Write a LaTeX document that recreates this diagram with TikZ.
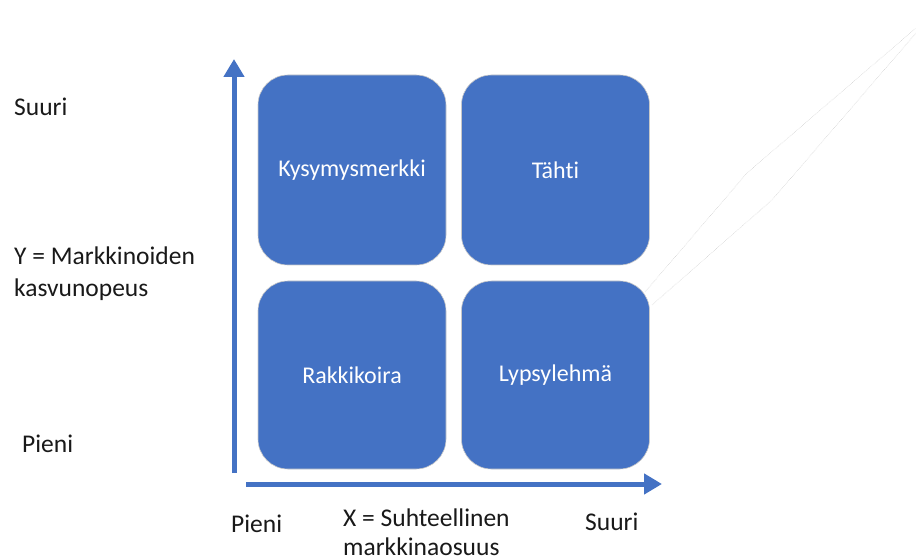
\documentclass[tikz,border=0pt]{standalone}
\usepackage{fontspec}
\setmainfont[Ligatures=NoCommon]{Carlito}
\usetikzlibrary{arrows.meta}
\definecolor{boxblue}{HTML}{4472C4}
\definecolor{guide}{HTML}{C8C8C8}
\tikzset{
  quad/.style={draw=guide, line width=0.6pt, fill=boxblue, rounded corners=30pt, minimum width=188pt, minimum height=190pt, inner sep=0pt, text=white, font=\fontsize{24}{29}\selectfont},
  axis/.style={draw=boxblue, line width=5pt, -{Triangle[width=20pt,length=18pt]}},
  lbl/.style={font=\fontsize{25.5}{32}\selectfont, text=black!90, inner sep=0pt, align=left},
  thinguide/.style={draw=guide, line width=0.5pt, densely dotted}
}
\begin{document}
\begin{tikzpicture}[x=1pt,y=-1pt]
\useasboundingbox (0,0) rectangle (916,556);
\node[quad] (q1) at (352,170) {Kysymysmerkki};
\node[quad] (q2) at (555.5,170) {Tähti};
\node[quad, minimum height=188pt] (q3) at (352,375) {Rakkikoira};
\node[quad, minimum height=188pt] (q4) at (555.5,375) {Lypsylehmä};
\coordinate (ya) at (234,473);
\coordinate (yb) at (234,59);
\coordinate (xa) at (246,484);
\coordinate (xb) at (662,484);
\draw[axis] (ya) -- (yb);
\draw[axis] (xa) -- (xb);
\node[lbl, anchor=west] (ys) at (14,107) {Suuri};
\node[lbl, anchor=west] (yt) at (14,274) {Y = Markkinoiden\\kasvunopeus};
\node[lbl, anchor=west] (yp) at (22,444) {Pieni};
\node[lbl, anchor=west] (xp) at (231,524) {Pieni};
\node[lbl, anchor=west, font=\fontsize{25.5}{29}\selectfont] (xt) at (343,532.5) {X = Suhteellinen\\markkinaosuus};
\node[lbl, anchor=west] (xs) at (585,522) {Suuri};
\coordinate (g1a) at (645,292);
\coordinate (g1b) at (747,173);
\coordinate (g1c) at (916,28);
\coordinate (g2a) at (652,305);
\coordinate (g2b) at (772,200);
\coordinate (g2c) at (916,33);
\draw[thinguide] (g1a) -- (g1b) -- (g1c);
\draw[thinguide] (g2a) -- (g2b) -- (g2c);
\end{tikzpicture}
\end{document}
